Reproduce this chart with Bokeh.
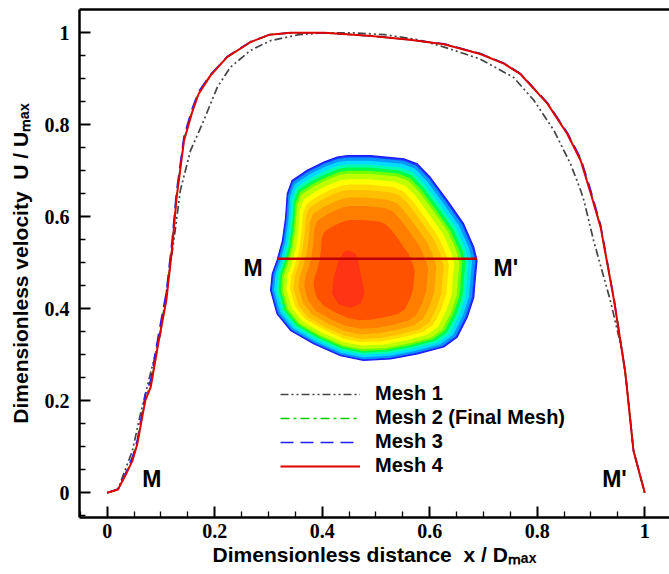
import numpy as np
from bokeh.plotting import figure
from bokeh.models import (Range1d, FixedTicker, CustomJSTickFormatter, LinearAxis,
                          Legend, LegendItem)
from bokeh.embed import file_html
from bokeh.resources import INLINE
from bokeh.core.properties import value

# ---------------- data ----------------
# Mesh 4 (and shared x for meshes 2-4)
x4 = [0.0, 0.020, 0.034, 0.047, 0.056, 0.064, 0.071, 0.081, 0.096, 0.110, 0.121, 0.129,
      0.143, 0.158, 0.170, 0.192, 0.223, 0.267, 0.302, 0.341, 0.404, 0.492, 0.563, 0.627,
      0.694, 0.738, 0.769, 0.819, 0.856, 0.881, 0.898, 0.918, 0.943, 0.964, 0.979, 1.0]
y4 = [0.0, 0.007, 0.038, 0.070, 0.106, 0.157, 0.201, 0.230, 0.331, 0.418, 0.534, 0.640,
      0.766, 0.827, 0.867, 0.907, 0.947, 0.980, 0.996, 1.0, 1.0, 0.993, 0.985, 0.975,
      0.954, 0.933, 0.910, 0.846, 0.780, 0.722, 0.657, 0.577, 0.418, 0.260, 0.092, 0.0]
y3 = [0.0, 0.008, 0.042, 0.078, 0.115, 0.168, 0.214, 0.245, 0.348, 0.436, 0.552, 0.655,
      0.776, 0.835, 0.872, 0.909, 0.948, 0.981, 0.996, 1.0, 1.0, 0.993, 0.985, 0.976,
      0.955, 0.934, 0.911, 0.848, 0.783, 0.727, 0.664, 0.582, 0.420, 0.262, 0.093, 0.0]
y2 = [0.0, 0.007, 0.040, 0.073, 0.110, 0.161, 0.206, 0.236, 0.337, 0.424, 0.540, 0.646,
      0.770, 0.830, 0.869, 0.908, 0.947, 0.980, 0.996, 1.0, 1.0, 0.993, 0.985, 0.975,
      0.955, 0.934, 0.911, 0.847, 0.782, 0.724, 0.660, 0.579, 0.419, 0.261, 0.092, 0.0]
# Mesh 1
x1 = [0.0, 0.020, 0.025, 0.047, 0.062, 0.099, 0.124, 0.136, 0.155, 0.177, 0.205, 0.229,
      0.267, 0.304, 0.357, 0.404, 0.460, 0.516, 0.579, 0.627, 0.694, 0.756, 0.794, 0.831,
      0.862, 0.881, 0.887, 0.905, 0.936, 0.958, 0.967, 0.979, 1.0]
y1 = [0.0, 0.007, 0.023, 0.092, 0.172, 0.346, 0.548, 0.657, 0.744, 0.802, 0.882, 0.925,
      0.962, 0.983, 0.996, 1.0, 1.0, 0.996, 0.985, 0.969, 0.943, 0.903, 0.853, 0.788,
      0.715, 0.657, 0.635, 0.548, 0.418, 0.309, 0.230, 0.092, 0.0]

series_labels = ["Mesh 1", "Mesh 2 (Final Mesh)", "Mesh 3", "Mesh 4"]
x_title = "Dimensionless distance\u00a0 x / Dₘₐₓ"
y_title = "Dimensionless velocity\u00a0 U / Uₘₐₓ"
tick_values = [0, 0.2, 0.4, 0.6, 0.8, 1.0]
minor_values = [round(0.05 * i, 2) for i in range(-1, 21) if i % 4 != 0]

# cross-section inset (outline of the velocity contour, in chart units)
outline_x = [0.4465, 0.490, 0.552, 0.577, 0.601, 0.633, 0.663, 0.682, 0.688, 0.685, 0.682,
             0.670, 0.651, 0.626, 0.577, 0.527, 0.477, 0.434, 0.384, 0.341, 0.316, 0.304,
             0.307, 0.316, 0.326, 0.332, 0.335, 0.344, 0.372, 0.403, 0.428]
outline_y = [0.733, 0.733, 0.726, 0.715, 0.686, 0.635, 0.585, 0.534, 0.505, 0.469, 0.425,
             0.382, 0.338, 0.317, 0.302, 0.291, 0.288, 0.298, 0.324, 0.353, 0.389, 0.440,
             0.476, 0.505, 0.548, 0.599, 0.650, 0.679, 0.701, 0.719, 0.730]
core_x = [0.4495, 0.4620, 0.4681, 0.4744, 0.4787, 0.4713, 0.4527, 0.4309, 0.4186, 0.4216,
          0.4309, 0.4402]
core_y = [0.5267, 0.5196, 0.4978, 0.4615, 0.4326, 0.4109, 0.4022, 0.4093, 0.4326, 0.4687,
          0.5050, 0.5230]
contour_levels = [1.0, 0.985, 0.96, 0.93, 0.905, 0.88, 0.857, 0.813, 0.77, 0.728, 0.668, 0.60, 0.49]
contour_colors = ["#1e3cff", "#0a96ff", "#00dcff", "#00ffb4", "#00ff46", "#6eff00", "#beff00",
                  "#ffff00", "#ffdc00", "#ffbe00", "#ff9e00", "#ff7e00", "#ff5200"]
section_x = [0.316, 0.688]
section_y = [0.509, 0.509]

marker_text = ["M", "M'", "M", "M'"]
marker_x = [0.2536, 0.7187, 0.0651, 0.9209]
marker_y = [0.4898, 0.4898, 0.0304, 0.0304]

# ---------------- figure ----------------
p = figure(frame_width=590, frame_height=508,
           x_range=Range1d(-0.0515, 1.0461), y_range=Range1d(-0.0537, 1.0507),
           output_backend="svg", toolbar_location=None,
           min_border_left=79, min_border_right=0, min_border_top=9, min_border_bottom=57,
           background_fill_color="white", border_fill_color="white")
p.outline_line_color = None
p.xgrid.visible = False
p.ygrid.visible = False

fmt = CustomJSTickFormatter(code="return String(Math.round(tick*10)/10);")
for ax in (p.xaxis[0], p.yaxis[0]):
    ax.ticker = FixedTicker(ticks=tick_values, minor_ticks=minor_values)
    ax.formatter = fmt
    ax.axis_line_width = 2.5
    ax.axis_line_color = "black"
    ax.major_tick_in = 11
    ax.major_tick_out = 0
    ax.minor_tick_in = 6
    ax.minor_tick_out = 0
    ax.major_tick_line_width = 2
    ax.minor_tick_line_width = 1.3
    ax.major_tick_line_color = "black"
    ax.minor_tick_line_color = "black"
    ax.major_label_text_font = "Liberation Serif"
    ax.major_label_text_font_style = "bold"
    ax.major_label_text_font_size = "20px"
    ax.major_label_text_color = "black"
    ax.axis_label_text_font = "Liberation Sans"
    ax.axis_label_text_font_style = "bold"
    ax.axis_label_text_font_size = "21px"
    ax.axis_label_text_color = "black"
p.xaxis.major_label_standoff = 6
p.yaxis.major_label_standoff = 10
p.xaxis.axis_label = x_title
p.yaxis.axis_label = y_title
p.xaxis.axis_label_standoff = 2
p.yaxis.axis_label_standoff = 10

top = LinearAxis(ticker=FixedTicker(ticks=[]), major_label_text_font_size="0px",
                 major_tick_in=0, major_tick_out=0, minor_tick_in=0, minor_tick_out=0,
                 major_label_standoff=0, axis_line_width=2.5, axis_line_color="black")
p.add_layout(top, "above")

# inset contour
cx0, cy0 = 0.498, 0.511
dx, dy = -0.0186, -0.026
ox = np.array(outline_x)
oy = np.array(outline_y)
xs, ys = [], []
for s in contour_levels:
    t = (1 - s) / 0.5
    cx = cx0 + t * dx
    cy = cy0 + t * dy
    xs.append(list(cx + s * (ox - cx0)))
    ys.append(list(cy + s * (oy - cy0)))
p.patches(xs, ys, fill_color=contour_colors, line_color=None)
p.patch(core_x, core_y, fill_color="#ff3414", line_color=None)
p.patch(outline_x, outline_y, fill_color=None, line_color="#1a1aff", line_width=1.2)
p.line(section_x, section_y, line_color="#c00000", line_width=2.5)

# curves
r1 = p.line(x1, y1, line_color="#454545", line_width=1.7, line_dash="8 3 2 3 2 3")
r2 = p.line(x4, y2, line_color="#00cc00", line_width=1.6, line_dash="9 4 3 4")
r3 = p.line(x4, y3, line_color="#1f1fff", line_width=1.6, line_dash="13 7")
r4 = p.line(x4, y4, line_color="#e00000", line_width=2)

legend = Legend(items=[LegendItem(label=series_labels[i], renderers=[r])
                       for i, r in enumerate([r1, r2, r3, r4])],
                location=(201, 40), glyph_width=80, glyph_height=20, label_height=20,
                spacing=1, label_standoff=15, padding=0, margin=0,
                border_line_color=None, background_fill_alpha=0,
                label_text_font="Liberation Sans", label_text_font_style="bold",
                label_text_font_size="20px", label_text_color="black")
p.add_layout(legend)

p.text(x=marker_x, y=marker_y, text=marker_text, text_font=value("Liberation Sans"),
       text_font_style="bold", text_font_size="23px", text_baseline="alphabetic",
       text_align="left", text_color="black")

open("out.html", "w").write(file_html(p, INLINE))
